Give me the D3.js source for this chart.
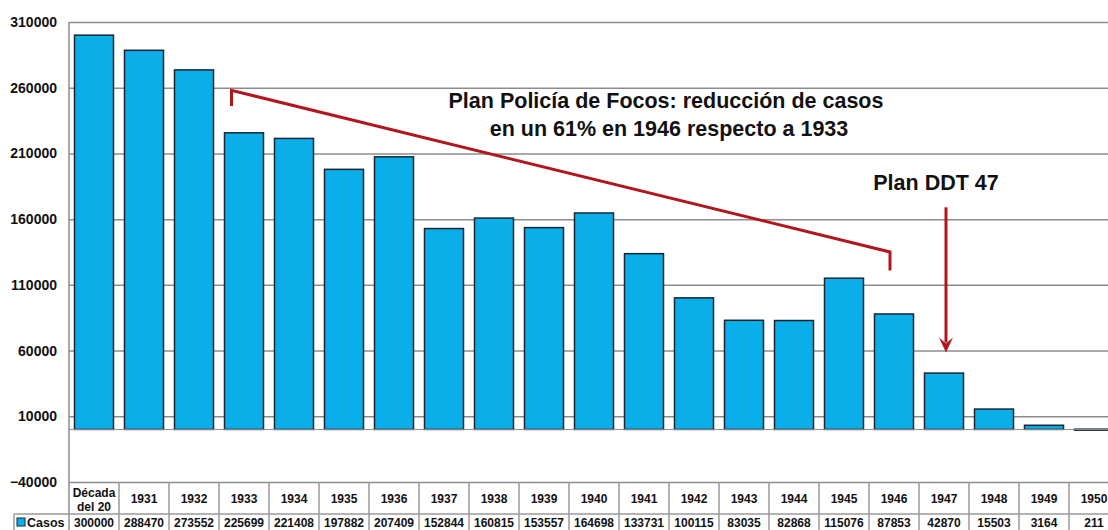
<!DOCTYPE html>
<html>
<head>
<meta charset="utf-8">
<script src="https://cdn.jsdelivr.net/npm/d3@7"></script>
<style>
  body { margin: 0; background: #fff; }
  svg { font-family: Arial, "Liberation Sans", sans-serif; }
  .tick line { stroke: #8c8c8c; stroke-width: 1.5px; }
  .tick text { font-size: 14px; font-weight: bold; fill: #111; }
</style>
</head>
<body>
<svg width="1108" height="530"></svg>
<script>
const categories = ["Década del 20", "1931", "1932", "1933", "1934", "1935", "1936", "1937",
  "1938", "1939", "1940", "1941", "1942", "1943", "1944", "1945", "1946", "1947", "1948",
  "1949", "1950"];
const casos = [300000, 288470, 273552, 225699, 221408, 197882, 207409, 152844, 160815,
  153557, 164698, 133731, 100115, 83035, 82868, 115076, 87853, 42870, 15503, 3164, 211];
const yTicks = [-40000, 10000, 60000, 110000, 160000, 210000, 260000, 310000];
const seriesName = "Casos";

// annotations (category, value, offset into band)
const bracket = [["1933", 246000, 7], ["1933", 258000, 7], ["1946", 135000, 15.5], ["1946", 121000, 15.5]];
const ddtArrow = [["1947", 169000], ["1947", 58500]];

const plotLeft = 69, plotTop = 22, plotBottom = 482, step = 50;
const plotRight = plotLeft + step * categories.length;

let svg = d3.select("svg");

let x = d3.scaleBand()
  .domain(categories)
  .range([plotLeft, plotRight])
  .paddingInner(0.22)
  .paddingOuter(0.11);

let y = d3.scaleLinear()
  .domain([yTicks[0], yTicks[yTicks.length - 1]])
  .range([plotBottom, plotTop]);

// gridlines + labels
let yAxis = svg.append("g")
  .attr("transform", `translate(${plotLeft},0)`)
  .call(d3.axisLeft(y).tickValues(yTicks).tickFormat(d3.format("d"))
    .tickSizeInner(-(1108 - plotLeft)).tickSizeOuter(0).tickPadding(12));
yAxis.select(".domain").remove();

// left axis line
svg.append("line")
  .attr("x1", plotLeft).attr("x2", plotLeft)
  .attr("y1", plotTop).attr("y2", 530)
  .attr("stroke", "#8c8c8c").attr("stroke-width", 1.5);

// bars
svg.append("g")
  .selectAll("rect")
  .data(casos)
  .enter()
  .append("rect")
  .attr("x", (d, i) => x(categories[i]))
  .attr("width", x.bandwidth())
  .attr("y", d => y(d))
  .attr("height", d => Math.max(1, y(0) - y(d)))
  .attr("fill", "#0aaee8")
  .attr("stroke", "#1b2633")
  .attr("stroke-width", 1.5);

// baseline
svg.append("line")
  .attr("x1", plotLeft).attr("x2", 1108)
  .attr("y1", y(0)).attr("y2", y(0))
  .attr("stroke", "#8c8c8c").attr("stroke-width", 1);

// data table
let rowTop = plotBottom, rowMid = 514, rowBot = 548;
let table = svg.append("g")
  .attr("stroke", "#9a9a9a").attr("stroke-width", 1.5).attr("fill", "none");
table.append("line").attr("x1", plotLeft).attr("x2", 1108).attr("y1", rowMid).attr("y2", rowMid);
table.append("line").attr("x1", 14).attr("x2", plotLeft).attr("y1", rowMid).attr("y2", rowMid);
table.append("line").attr("x1", 14).attr("x2", 14).attr("y1", rowMid).attr("y2", rowBot);
table.selectAll(".col")
  .data(categories)
  .enter()
  .append("line")
  .attr("x1", (d, i) => plotLeft + (i + 1) * x.step())
  .attr("x2", (d, i) => plotLeft + (i + 1) * x.step())
  .attr("y1", rowTop).attr("y2", rowBot);

let headers = svg.append("g")
  .attr("font-size", 12).attr("font-weight", "bold").attr("fill", "#111")
  .attr("text-anchor", "middle")
  .selectAll("text")
  .data(categories)
  .enter()
  .append("text")
  .attr("x", (d, i) => plotLeft + (i + 0.5) * x.step());
headers.each(function(d) {
  let parts = d.indexOf(" ") > 0 ? [d.split(" ")[0], d.split(" ").slice(1).join(" ")] : [d];
  let t = d3.select(this);
  if (parts.length === 1) {
    t.append("tspan").attr("y", 503).text(parts[0]);
  } else {
    t.append("tspan").attr("y", 497).text(parts[0]);
    t.append("tspan").attr("x", t.attr("x")).attr("y", 511).text(parts[1]);
  }
});

svg.append("g")
  .attr("font-size", 12).attr("font-weight", "bold").attr("fill", "#111")
  .attr("text-anchor", "middle")
  .selectAll("text")
  .data(casos)
  .enter()
  .append("text")
  .attr("x", (d, i) => plotLeft + (i + 0.5) * x.step())
  .attr("y", 527)
  .text(d => d);

// legend key in table
svg.append("rect")
  .attr("x", 17).attr("y", 518).attr("width", 8).attr("height", 8)
  .attr("fill", "#0aaee8").attr("stroke", "#1b2633").attr("stroke-width", 1);
svg.append("text")
  .attr("x", 27).attr("y", 527)
  .attr("font-size", 12.5).attr("font-weight", "bold").attr("fill", "#111")
  .text(seriesName);

// annotations
let red = "#b3151d";
svg.append("path")
  .attr("d", d3.line()(bracket.map(b => [x(b[0]) + b[2], y(b[1])])))
  .attr("fill", "none").attr("stroke", red).attr("stroke-width", 3);

let ax = x(ddtArrow[0][0]) + x.bandwidth() / 2 + 2;
let ay1 = y(ddtArrow[0][1]), ay2 = y(ddtArrow[1][1]);
svg.append("line")
  .attr("x1", ax).attr("x2", ax).attr("y1", ay1).attr("y2", ay2 - 10)
  .attr("stroke", red).attr("stroke-width", 3);
svg.append("path")
  .attr("d", `M${ax - 7},${ay2 - 15} L${ax},${ay2} L${ax + 7},${ay2 - 15} L${ax},${ay2 - 9} Z`)
  .attr("fill", red);

let note = svg.append("g")
  .attr("font-size", 21.5).attr("font-weight", "bold").attr("fill", "#111")
  .attr("text-anchor", "middle");
note.append("text").attr("x", 666).attr("y", 108).text("Plan Policía de Focos: reducción de casos");
note.append("text").attr("x", 669).attr("y", 136).text("en un 61% en 1946 respecto a 1933");
note.append("text").attr("x", 936).attr("y", 190).text("Plan DDT 47");
</script>
</body>
</html>
